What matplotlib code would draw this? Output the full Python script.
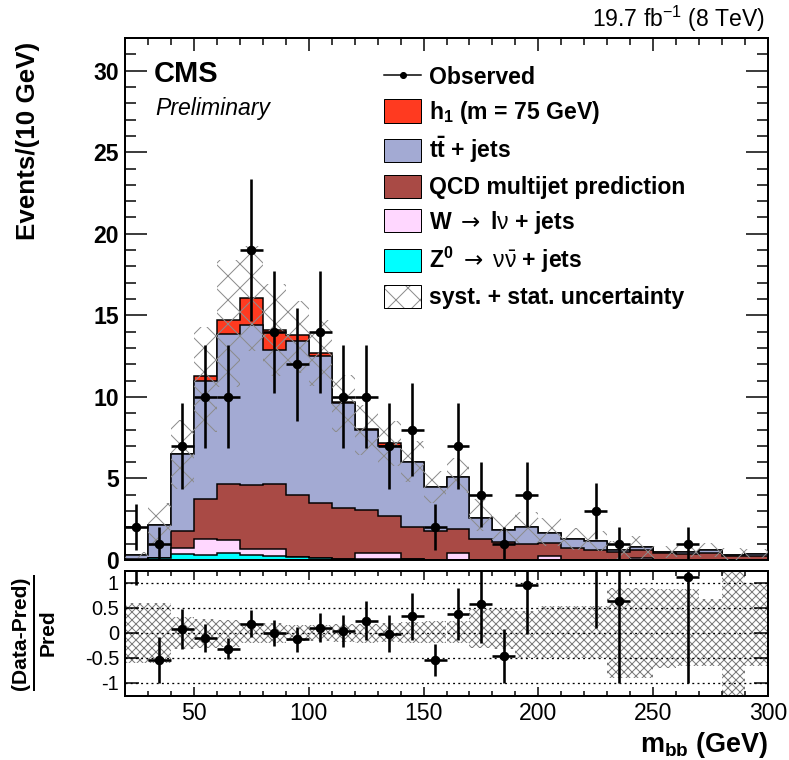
import numpy as np
import matplotlib
matplotlib.use("Agg")
import matplotlib.pyplot as plt
from matplotlib.lines import Line2D
from matplotlib.patches import Patch
from matplotlib.ticker import MultipleLocator

# ---- data (10 GeV bins, 20-300 GeV) ----
edges = np.arange(20, 301, 10)
observed = [2, 1, 7, 10, 10, 19, 14, 12, 14, 10, 10, 7, 8, 2,
            7, 4, 1, 4, 0, 0, 3, 1, 0, 0, 1, 0, 0, 0]
z_nunu = [0.02, 0.12, 0.37, 0.29, 0.41, 0.29, 0.24, 0.18, 0.14, 0.06, 0.05, 0.05, 0.04, 0.03,
          0.03, 0.02, 0.02, 0.02, 0.01, 0.01, 0.01, 0.01, 0.01, 0.01, 0.01, 0.01, 0.01, 0.01]
w_lnu = [0.00, 0.00, 0.39, 1.02, 0.80, 0.37, 0.42, 0.02, 0.00, 0.00, 0.40, 0.40, 0.00, 0.00,
         0.42, 0.00, 0.00, 0.00, 0.22, 0.00, 0.00, 0.00, 0.10, 0.00, 0.00, 0.00, 0.00, 0.00]
qcd = [0.03, 0.02, 1.02, 2.42, 3.42, 3.93, 3.97, 3.78, 3.37, 3.10, 2.61, 2.26, 2.00, 1.77,
       1.45, 1.27, 1.10, 0.96, 0.80, 0.71, 0.60, 0.48, 0.50, 0.44, 0.34, 0.40, 0.26, 0.26]
ttbar = [0.25, 2.03, 4.72, 7.27, 9.22, 9.81, 8.27, 9.42, 8.99, 6.44, 4.94, 4.29, 3.96, 2.65,
         3.20, 1.26, 0.73, 1.06, 0.64, 0.55, 0.55, 0.12, 0.17, 0.02, 0.12, 0.20, 0.03, 0.08]
h1_signal = [0, 0, 0, 0.25, 0.85, 1.65, 1.20, 0.40, 0.20, 0.10, 0.05, 0.15, 0, 0,
             0, 0, 0, 0, 0, 0, 0, 0, 0, 0, 0, 0, 0, 0]
# relative syst.+stat. uncertainty on the prediction (up / down)
unc_up = [0.60, 0.60, 0.32, 0.27, 0.25, 0.20, 0.20, 0.15, 0.16, 0.17, 0.18, 0.19, 0.22, 0.23,
          0.23, 0.47, 0.47, 0.43, 0.53, 0.53, 0.53, 0.90, 0.90, 0.87, 0.87, 0.67, 1.40, 1.00]
unc_dn = [0.60, 0.60, 0.33, 0.30, 0.28, 0.20, 0.20, 0.17, 0.16, 0.19, 0.20, 0.19, 0.20, 0.21,
          0.20, 0.30, 0.33, 0.50, 0.50, 0.50, 0.50, 0.90, 0.90, 0.70, 0.67, 0.67, 1.40, 0.67]

C_H1 = "#ff3a20"
C_TT = "#a3aad3"
C_QCD = "#a94a45"
C_W = "#ffd7ff"
C_Z = "#00ffff"
C_HATCH = "#8c8c8c"

W_PX, H_PX = 789, 760
plt.rcParams["font.family"] = ["Liberation Sans", "DejaVu Sans"]
plt.rcParams["mathtext.fontset"] = "custom"
plt.rcParams["mathtext.rm"] = "Liberation Sans"
plt.rcParams["mathtext.bf"] = "Liberation Sans:bold"
plt.rcParams["mathtext.it"] = "Liberation Sans:italic"
plt.rcParams["mathtext.sf"] = "DejaVu Sans"
plt.rcParams["axes.unicode_minus"] = False
plt.rcParams["hatch.linewidth"] = 1.0


def px(x, y):
    """pixel position (from top-left) -> figure fraction"""
    return x / W_PX, 1 - y / H_PX


centers = 0.5 * (edges[:-1] + edges[1:])
obs = np.array(observed, dtype=float)
layers = np.cumsum(np.array([z_nunu, w_lnu, qcd, ttbar, h1_signal]), axis=0)
total = layers[-1]
up = np.array(unc_up)
dn = np.array(unc_dn)

fig = plt.figure(figsize=(W_PX / 72, H_PX / 72), dpi=72)
ax = fig.add_axes([125 / W_PX, 1 - 560 / H_PX, 643 / W_PX, 522 / H_PX])
axr = fig.add_axes([125 / W_PX, 1 - 696 / H_PX, 643 / W_PX, 125 / H_PX])

# stacked backgrounds + signal, drawn from the top layer down
for vals, col in zip(layers[::-1], [C_H1, C_TT, C_QCD, C_W, C_Z]):
    ax.stairs(vals, edges, fill=True, facecolor=col, edgecolor="black", lw=1.5, zorder=2)

# uncertainty band
ax.bar(centers, total * (up + dn), bottom=total * (1 - dn), width=10, fill=False,
       hatch="x", edgecolor=C_HATCH, lw=0, zorder=3)

# observed
m = obs > 0
ax.errorbar(centers[m], obs[m], yerr=np.sqrt(obs[m]), xerr=5, fmt="o", color="black",
            ms=8.5, elinewidth=2.6, capsize=0, zorder=5)

ax.set_xlim(20, 300)
ax.set_ylim(0, 32)
ax.xaxis.set_major_locator(MultipleLocator(50))
ax.xaxis.set_minor_locator(MultipleLocator(10))
ax.yaxis.set_major_locator(MultipleLocator(5))
ax.yaxis.set_minor_locator(MultipleLocator(1))
ax.tick_params(which="both", direction="in", top=True, right=True, width=1.5)
ax.tick_params(axis="y", which="major", length=22, labelsize=23, pad=6)
ax.tick_params(axis="y", which="minor", length=11)
ax.tick_params(axis="x", which="major", length=13, labelbottom=False)
ax.tick_params(axis="x", which="minor", length=7)
for lab in ax.get_yticklabels():
    lab.set_fontweight("bold")

# ratio panel
rel = obs / total - 1
rel_err = np.sqrt(obs) / total
axr.bar(centers, up + dn, bottom=-dn, width=10, fill=False, hatch="xxx",
        edgecolor="#7a7a7a", lw=0, zorder=1)
for yy in [-1, -0.5, 0, 0.5, 1]:
    axr.axhline(yy, color="black", ls=(0, (1.5, 2.5)), lw=1.3, zorder=2)
axr.errorbar(centers[m], rel[m], yerr=rel_err[m], xerr=5, fmt="o", color="black",
             ms=8.5, elinewidth=2.6, capsize=0, zorder=5)
axr.set_xlim(20, 300)
axr.set_ylim(-1.27, 1.24)
axr.set_yticks([-1, -0.5, 0, 0.5, 1])
axr.set_yticklabels(["-1", "-0.5", "0", "0.5", "1"])
axr.xaxis.set_major_locator(MultipleLocator(50))
axr.xaxis.set_minor_locator(MultipleLocator(10))
axr.tick_params(which="both", direction="in", top=True, right=True, width=1.5)
axr.tick_params(axis="y", which="major", length=14, labelsize=20, pad=6)
axr.tick_params(axis="x", which="major", length=9, labelsize=23, pad=6)
axr.tick_params(axis="x", which="minor", length=5)

for a in (ax, axr):
    for s in a.spines.values():
        s.set_linewidth(2)

# texts
fig.text(*px(28, 42), "Events/(10 GeV)", rotation=90, ha="center", va="top",
         fontsize=26, fontweight="bold")
fig.text(*px(154, 82), "CMS", fontsize=29, fontweight="bold", va="baseline")
fig.text(*px(155, 115), "Preliminary", fontsize=23, style="italic", va="baseline")
fig.text(*px(765, 27), r"19.7 fb$^{-1}$ (8 TeV)", fontsize=23, ha="right", va="baseline")
fig.text(*px(768, 752), r"m$_\mathbf{bb}$ (GeV)", fontsize=27, fontweight="bold",
         ha="right", va="baseline")
fig.text(*px(21, 633), "(Data-Pred)", rotation=90, ha="center", va="center",
         fontsize=21, fontweight="bold")
fig.text(*px(48, 633), "Pred", rotation=90, ha="center", va="center",
         fontsize=21, fontweight="bold")
x0, y0 = px(34, 576)
x1, y1 = px(34, 690)
fig.add_artist(Line2D([x0, x1], [y0, y1], transform=fig.transFigure, color="black", lw=2))

# legend
handles = [
    Line2D([], [], color="black", marker="o", ms=6, lw=1.5),
    Patch(facecolor=C_H1, edgecolor="black", lw=1),
    Patch(facecolor=C_TT, edgecolor="black", lw=1),
    Patch(facecolor=C_QCD, edgecolor="black", lw=1),
    Patch(facecolor=C_W, edgecolor="black", lw=1),
    Patch(facecolor=C_Z, edgecolor="black", lw=1),
    (Patch(facecolor="white", edgecolor=C_HATCH, hatch="x", lw=0),
     Patch(facecolor="none", edgecolor="black", lw=1)),
]
labels = [
    "Observed",
    r"h$_\mathbf{1}$ (m = 75 GeV)",
    r"$\mathbf{t\bar{t}}$ + jets",
    "QCD multijet prediction",
    r"W $\mathsf{\rightarrow}$ l$\mathrm{\nu}$ + jets",
    r"Z$^\mathbf{0}$ $\mathsf{\rightarrow}$ $\mathrm{\nu\bar{\nu}}$ + jets",
    "syst. + stat. uncertainty",
]
fig.legend(handles, labels, loc="upper left", bbox_to_anchor=px(384, 65), frameon=False,
           prop={"size": 23, "weight": "bold"}, handlelength=1.62, handleheight=1.17,
           labelspacing=0.41, handletextpad=0.35, borderpad=0, borderaxespad=0)

fig.savefig("out.png", dpi=72)
